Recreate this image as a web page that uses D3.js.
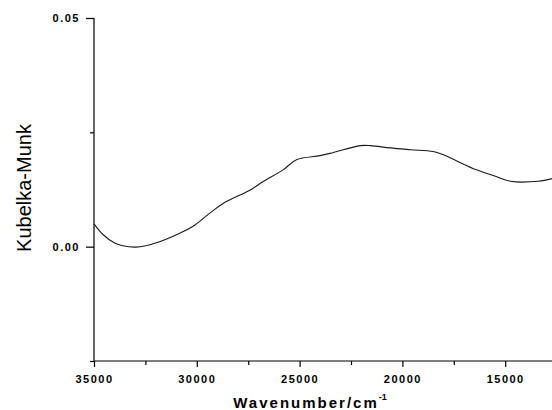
<!DOCTYPE html>
<html lang="en">
<head>
    <meta charset="utf-8">
    <script type="text/javascript" src="https://cdn.jsdelivr.net/npm/d3@7"></script>
    <style>
        body { margin: 0; background: #fff; }
        text { font-family: "Liberation Sans", Arial, sans-serif; fill: #000; }
    </style>
</head>
<body>
<script type="text/javascript">

    // spectrum
    let wavenumber = [35000, 34550, 34000, 33600, 32950, 32000, 30800, 30200, 29350, 28700,
        27400, 26750, 25800, 25150, 24000, 23350, 22050, 21550, 20600, 19600,
        18500, 18000, 17200, 16400, 15550, 14750, 13400, 12700];
    let km = [0.0050, 0.0026, 0.0008, 0.0002, -0.0001, 0.0008, 0.0030, 0.0044, 0.0074, 0.0095,
        0.0124, 0.0143, 0.0168, 0.0190, 0.0199, 0.0206, 0.0221, 0.0221, 0.0216, 0.0212,
        0.0208, 0.0201, 0.0184, 0.0168, 0.0155, 0.0143, 0.0143, 0.0149];

    let xMajor = [35000, 30000, 25000, 20000, 15000];
    let xMinor = [32500, 27500, 22500, 17500, 12500];
    let yMajor = [0.00, 0.05];
    let yMinor = [-0.025, 0.025];

    //Width and height
    let w = 552;
    let h = 410;

    let x = d3.scaleLinear()
        .domain([35000, 10000])
        .range([94, 608]);

    let y = d3.scaleLinear()
        .domain([-0.025, 0.05])
        .range([361, 18]);

    let svg = d3.select("body")
        .append("svg")
        .attr("width", w)
        .attr("height", h);

    // x axis
    svg.append("g")
        .attr("class", "xaxis")
        .attr("transform", "translate(0," + y(-0.025) + ")")
        .call(d3.axisBottom(x).tickValues(xMajor).tickSize(6).tickPadding(8).tickFormat(d3.format("d")))
        .select(".domain").attr("d", "M" + x(35000) + ",0H" + w);
    svg.append("g")
        .attr("transform", "translate(0," + y(-0.025) + ")")
        .call(d3.axisBottom(x).tickValues(xMinor).tickSize(4).tickFormat(""))
        .select(".domain").remove();

    // y axis
    svg.append("g")
        .attr("transform", "translate(" + x(35000) + ",0)")
        .call(d3.axisLeft(y).tickValues(yMajor).tickSize(8).tickPadding(6).tickFormat(d3.format(".2f")))
        .select(".domain").attr("d", "M0," + y(0.05) + "V" + y(-0.025));
    svg.append("g")
        .attr("transform", "translate(" + x(35000) + ",0)")
        .call(d3.axisLeft(y).tickValues(yMinor).tickSize(4).tickFormat(""))
        .select(".domain").remove();

    svg.selectAll(".tick line, .domain")
        .attr("stroke", "#000")
        .attr("stroke-width", 1.2);

    svg.selectAll(".tick text")
        .attr("font-family", "Liberation Sans, Arial, sans-serif")
        .attr("font-size", 11)
        .attr("font-weight", "bold")
        .attr("letter-spacing", "1.5px")
        .attr("fill", "#222");

    // spectrum
    let line = d3.line()
        .x((d, i) => x(wavenumber[i]))
        .y(d => y(d))
        .curve(d3.curveCatmullRom);

    svg.append("path")
        .datum(km)
        .attr("d", line)
        .attr("fill", "none")
        .attr("stroke", "#1a1a1a")
        .attr("stroke-width", 1.1);

    // axis titles
    let xt = svg.append("text")
        .attr("x", 310)
        .attr("y", 408)
        .attr("text-anchor", "middle")
        .attr("font-size", 15)
        .attr("font-weight", "bold")
        .attr("letter-spacing", "2px")
        .text("Wavenumber/cm");
    xt.append("tspan")
        .attr("dy", -8)
        .attr("font-size", 9)
        .attr("letter-spacing", "0px")
        .text("-1");

    svg.append("text")
        .attr("transform", "translate(31,188) rotate(-90)")
        .attr("text-anchor", "middle")
        .attr("font-size", 20)
        .text("Kubelka-Munk");

</script>
</body>
</html>
